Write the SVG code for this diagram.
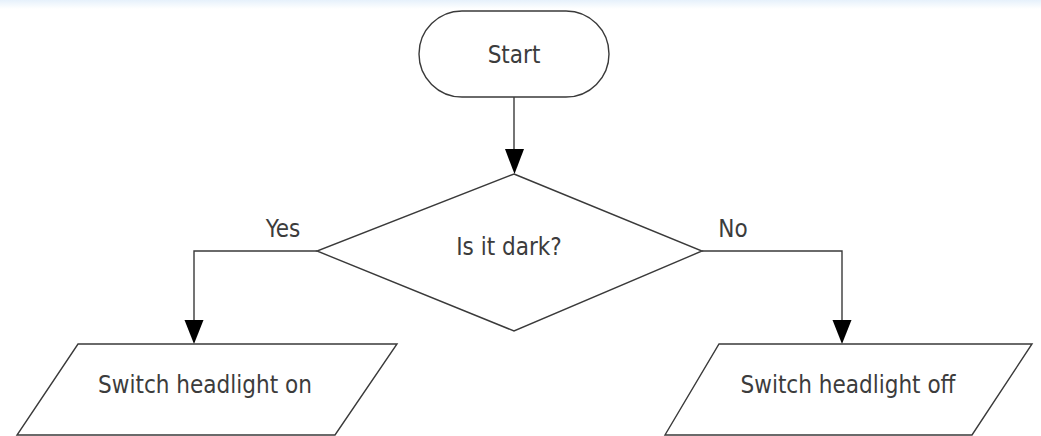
<svg xmlns="http://www.w3.org/2000/svg" width="1041" height="436" viewBox="0 0 1041 436">
  <style>
    .shape { fill: #ffffff; stroke: #3a3a3a; stroke-width: 1.4; }
    .wire { fill: none; stroke: #3a3a3a; stroke-width: 1.4; }
    .head { fill: #000000; }
    .label { font-family: "DejaVu Sans", "Liberation Sans", sans-serif; font-stretch: condensed; font-size: 24px; fill: #3c3c3c; }
    .mid { text-anchor: middle; }
  </style>
  <defs>
    <linearGradient id="topband" x1="0" y1="0" x2="0" y2="1">
      <stop offset="0" stop-color="#e6f1fb"/>
      <stop offset="1" stop-color="#ffffff"/>
    </linearGradient>
  </defs>

  <rect x="0" y="0" width="1041" height="436" fill="#ffffff"/>
  <rect x="0" y="0" width="1041" height="9" fill="url(#topband)"/>

  <!-- connectors with their arrowheads and branch labels -->
  <g id="connectors">
    <path class="wire" d="M514,97 L514,150"/>
    <polygon class="head" points="505,149 524,149 514.5,174"/>
    <path class="wire" d="M317,251 L194,251 L194,322"/>
    <polygon class="head" points="184.5,320 203.5,320 194,344"/>
    <path class="wire" d="M702,251 L842,251 L842,322"/>
    <polygon class="head" points="832.5,320 851.5,320 842,344"/>
    <text class="label mid" x="283" y="237">Yes</text>
    <text class="label mid" x="733" y="237">No</text>
  </g>

  <!-- start terminal -->
  <g id="start">
    <rect class="shape" x="419" y="11" width="190" height="86" rx="43" ry="43"/>
    <text class="label mid" x="514" y="63">Start</text>
  </g>

  <!-- decision -->
  <g id="decision">
    <polygon class="shape" points="514,174 702,251 514,331 317,251"/>
    <text class="label mid" x="509" y="255">Is it dark?</text>
  </g>

  <!-- output: headlight on -->
  <g id="headlight-on">
    <polygon class="shape" points="78,344 397,344 335,435 17,435"/>
    <text class="label mid" x="205" y="393">Switch headlight on</text>
  </g>

  <!-- output: headlight off -->
  <g id="headlight-off">
    <polygon class="shape" points="719,344 1032,344 972,435 665,435"/>
    <text class="label mid" x="848" y="393">Switch headlight off</text>
  </g>
</svg>
